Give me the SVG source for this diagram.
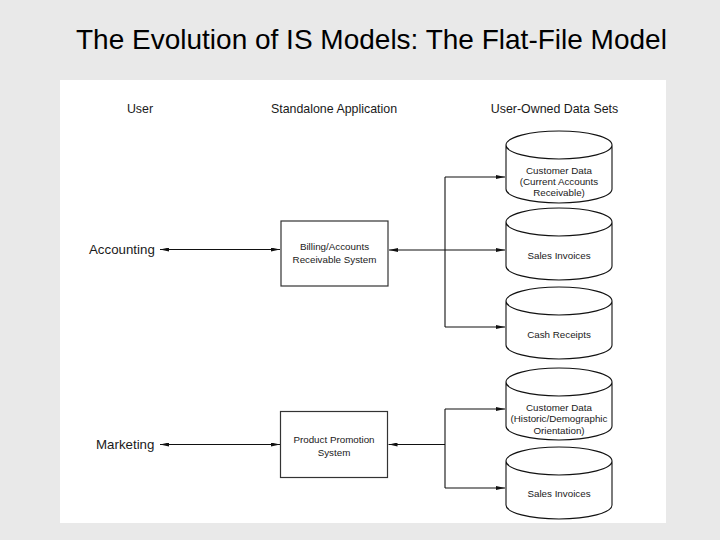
<svg xmlns="http://www.w3.org/2000/svg" width="720" height="540" viewBox="0 0 720 540">
<style>
text{font-family:"Liberation Sans",Arial,sans-serif;fill:#1a1a1a}
.title{font-size:28px;fill:#000}
.hdr{font-size:12.4px;text-anchor:middle}
.user{font-size:13.3px}
.sm{font-size:9.8px;text-anchor:middle}
.box{fill:#fff;stroke:#333;stroke-width:1.2}
.cyl{fill:#fff;stroke:#111;stroke-width:1.1}
.ln{fill:none;stroke:#111;stroke-width:1.1}
</style>
<defs>
<marker id="ah" viewBox="0 0 9 4" refX="9" refY="2" markerWidth="9" markerHeight="4" markerUnits="userSpaceOnUse" orient="auto-start-reverse">
<path d="M0,0 L9,2 L0,4 z" fill="#111"/>
</marker>
<path id="cylshape" d="M0,14 A53,14 0 0 1 106,14 L106,58 A53,14 0 0 1 0,58 Z M0,14 A53,14 0 0 0 106,14"/>
</defs>
<rect x="0" y="0" width="720" height="540" fill="#e9e9e9"/>
<rect x="60" y="80" width="606" height="443" fill="#fff"/>
<text class="title" x="76" y="49">The Evolution of IS Models: The Flat-File Model</text>
<g id="headers">
<text class="hdr" x="140" y="113">User</text>
<text class="hdr" x="334" y="113">Standalone Application</text>
<text class="hdr" x="554.5" y="113">User-Owned Data Sets</text>
</g>
<g id="connectors">
<line class="ln" x1="160" y1="249.5" x2="280" y2="249.5" marker-start="url(#ah)" marker-end="url(#ah)"/>
<line class="ln" x1="389" y1="250" x2="505" y2="250" marker-start="url(#ah)" marker-end="url(#ah)"/>
<line class="ln" x1="445" y1="177" x2="445" y2="327"/>
<line class="ln" x1="445" y1="177" x2="505" y2="177" marker-end="url(#ah)"/>
<line class="ln" x1="445" y1="327" x2="505" y2="327" marker-end="url(#ah)"/>
<line class="ln" x1="160" y1="444.5" x2="280" y2="444.5" marker-start="url(#ah)" marker-end="url(#ah)"/>
<line class="ln" x1="445" y1="444.5" x2="388.5" y2="444.5" marker-end="url(#ah)"/>
<line class="ln" x1="445" y1="409" x2="445" y2="488"/>
<line class="ln" x1="445" y1="409" x2="505" y2="409" marker-end="url(#ah)"/>
<line class="ln" x1="445" y1="488" x2="505" y2="488" marker-end="url(#ah)"/>
</g>
<g id="accounting"><text class="user" x="89" y="253.5">Accounting</text></g>
<g id="marketing"><text class="user" x="96" y="449">Marketing</text></g>
<g id="billing">
<rect class="box" x="281" y="221" width="107" height="65"/>
<text class="sm" x="334.5" y="250">Billing/Accounts</text>
<text class="sm" x="334.5" y="262.5">Receivable System</text>
</g>
<g id="promotion">
<rect class="box" x="280.5" y="411.5" width="107" height="66"/>
<text class="sm" x="334" y="442.5">Product Promotion</text>
<text class="sm" x="334" y="456">System</text>
</g>
<g id="cyl-customer-current">
<use href="#cylshape" class="cyl" x="506" y="131"/>
<text class="sm" x="559" y="173.5">Customer Data</text>
<text class="sm" x="559" y="184.5">(Current Accounts</text>
<text class="sm" x="559" y="195.5">Receivable)</text>
</g>
<g id="cyl-sales-1">
<use href="#cylshape" class="cyl" x="506" y="208"/>
<text class="sm" x="559" y="258.5">Sales Invoices</text>
</g>
<g id="cyl-cash">
<use href="#cylshape" class="cyl" x="506" y="287"/>
<text class="sm" x="559" y="337.5">Cash Receipts</text>
</g>
<g id="cyl-customer-historic">
<use href="#cylshape" class="cyl" x="506" y="368"/>
<text class="sm" x="559" y="411">Customer Data</text>
<text class="sm" x="559" y="422">(Historic/Demographic</text>
<text class="sm" x="559" y="433.5">Orientation)</text>
</g>
<g id="cyl-sales-2">
<use href="#cylshape" class="cyl" x="506" y="447"/>
<text class="sm" x="559" y="496.5">Sales Invoices</text>
</g>
</svg>
